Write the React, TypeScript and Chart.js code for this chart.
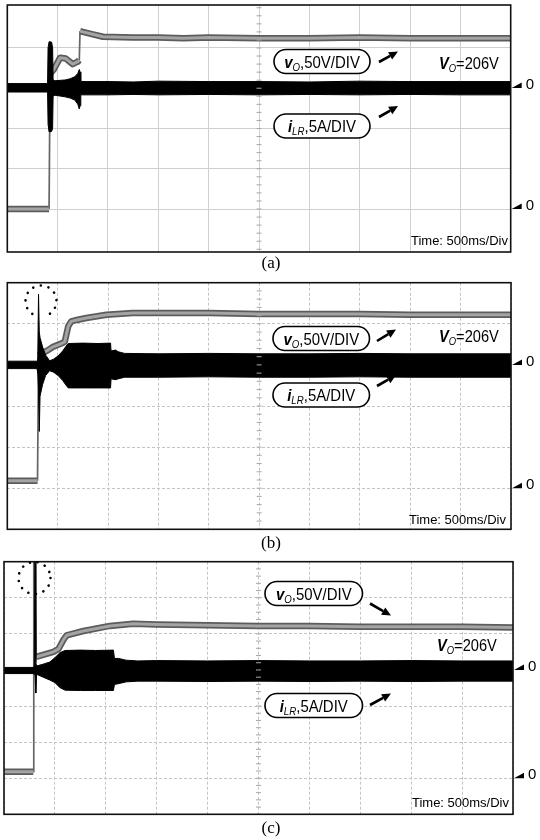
import React, { useEffect, useRef } from "react";
import { Chart, registerables } from "chart.js";
Chart.register(...registerables);

// ---------------- DATA (time in divisions, 500 ms / div) ----------------
const TIME_DIVS = [0, 1, 2, 3, 4, 5, 6, 7, 8, 9, 10];

// Panel (a)
const A_VO_T = [0, 0.83, 0.85, 0.92, 1.05, 1.16, 1.30, 1.40, 1.43, 1.445, 1.5, 1.7, 1.9, 2.5, 3, 3.5, 4, 5, 6, 7, 8, 9, 10];
const A_VO = [0, 0, 168, 173, 188, 187, 180, 183, 185, 221, 220, 217, 214, 213, 213, 212, 213, 212, 212, 213, 212, 212, 212];
const A_I_T = [0, 0.80, 0.81, 0.83, 0.88, 0.90, 0.91, 0.95, 1.05, 1.15, 1.25, 1.34, 1.40, 1.43, 1.445, 1.46, 2, 2.5, 3, 4, 5, 6, 7, 8, 9, 10];
const A_I_HI = [0.55, 0.55, 5.0, 5.75, 5.7, 5.0, 1.0, 0.9, 0.95, 1.0, 1.15, 1.4, 1.8, 2.3, 2.0, 0.8, 0.8, 0.75, 0.85, 0.8, 0.8, 0.75, 0.85, 0.8, 0.8, 0.8];
const A_I_LO = [-0.5, -0.5, -4.5, -5.45, -5.4, -5.0, -1.0, -0.9, -1.0, -1.1, -1.25, -1.5, -2.0, -2.6, -2.2, -0.85, -0.85, -0.8, -0.85, -0.8, -0.85, -0.8, -0.85, -0.8, -0.85, -0.85];

// Panel (b)
const B_VO_T = [0, 0.60, 0.62, 0.81, 0.91, 1.07, 1.14, 1.21, 1.27, 1.40, 1.57, 1.97, 2.49, 3, 4, 5, 6, 7, 8, 9, 10];
const B_VO = [9, 9, 162, 168, 172, 176, 178, 197, 203, 205, 207, 211, 213, 213, 213, 212, 212, 212, 211, 211, 211];
const B_I_T = [0, 0.59, 0.605, 0.62, 0.635, 0.65, 0.70, 0.76, 0.84, 0.92, 1.01, 1.10, 1.17, 1.21, 1.50, 1.80, 2.05, 2.06, 2.15, 2.2, 2.33, 3, 4, 5, 6, 7, 8, 9, 10];
const B_I_HI = [0.45, 0.45, 1.0, 8.6, 4.0, 3.3, 2.2, 1.2, 0.5, 0.7, 1.1, 1.7, 2.3, 2.6, 2.65, 2.6, 2.65, 1.7, 1.8, 1.6, 1.4, 1.35, 1.4, 1.35, 1.35, 1.4, 1.35, 1.35, 1.35];
const B_I_LO = [-0.45, -0.45, -1.0, -3.0, -8.1, -3.8, -2.4, -1.3, -0.7, -0.9, -1.3, -1.9, -2.5, -2.8, -2.8, -2.8, -2.8, -1.7, -1.8, -1.7, -1.5, -1.5, -1.45, -1.5, -1.5, -1.45, -1.5, -1.5, -1.5];

// Panel (c)
const C_VO_T = [0, 0.575, 0.585, 0.61, 0.63, 0.97, 1.07, 1.17, 1.23, 1.56, 2.08, 2.54, 3, 4, 5, 6, 7, 8, 9, 10];
const C_VO = [9, 9, 340, 340, 168, 175, 179, 192, 198, 204, 211, 214, 213, 212, 211, 211, 210, 210, 210, 209];
const C_I_T = [0, 0.57, 0.595, 0.61, 0.625, 0.64, 0.77, 0.90, 1.00, 1.10, 1.20, 1.50, 1.80, 2.15, 2.17, 2.25, 2.40, 2.63, 3, 4, 5, 6, 7, 8, 9, 10];
const C_I_HI = [0.35, 0.35, 0.5, 20, 1.0, 0.55, 0.8, 1.1, 1.7, 2.4, 2.7, 2.75, 2.7, 2.75, 1.6, 1.6, 1.35, 1.25, 1.3, 1.25, 1.3, 1.25, 1.25, 1.3, 1.25, 1.25];
const C_I_LO = [-0.5, -0.5, -0.6, -0.6, -3.2, -0.6, -1.0, -1.4, -1.75, -2.45, -2.8, -2.85, -2.85, -2.85, -2.0, -1.9, -1.65, -1.55, -1.55, -1.6, -1.55, -1.6, -1.55, -1.6, -1.55, -1.55];

const VO_SCALE = "50V/DIV";
const I_SCALE = "5A/DIV";
const VO_FINAL = "=206V";
const TIME_LABEL = "Time: 500ms/Div";

// ---------------- LAYOUT ----------------
const SANS = '"Liberation Sans", Arial, sans-serif';
const SERIF = '"Liberation Serif", "Times New Roman", serif';

type Layout = {
  top: number; height: number;
  area: { l: number; t: number; r: number; b: number };
  vMin: number; vMax: number; vTicks: number[];
  iMin: number; iMax: number;
  dashed: boolean;
  voBox: number[]; iBox: number[];
  arrows: number[][];
  voLabel: number[]; timeLabel: number[];
  caption: [number, number, string];
  circle?: number[];
};

const LAYOUT_A: Layout = {
  top: 0, height: 280,
  area: { l: 7.3, t: 5, r: 510.7, b: 252 },
  vMin: -53.4, vMax: 253.4, vTicks: [0, 50, 100, 150, 200],
  iMin: -20.37, iMax: 10.31, dashed: false,
  voBox: [274, 49.5, 96, 24], iBox: [274, 114, 96, 24],
  arrows: [[379, 62, 398, 51.5], [379, 117, 398, 106]],
  voLabel: [439, 68.5], timeLabel: [508, 244.5],
  caption: [271, 268, "(a)"],
};
const LAYOUT_B: Layout = {
  top: 280, height: 275,
  area: { l: 7.3, t: 2.7, r: 511, b: 249.3 },
  vMin: -50, vMax: 250, vTicks: [-50, 0, 50, 100, 150, 200, 250],
  iMin: -20, iMax: 10, dashed: true,
  voBox: [273, 46.5, 96.5, 24], iBox: [273, 103, 96.5, 24],
  arrows: [[377, 61, 396, 49.5], [377, 106, 396, 95]],
  voLabel: [439, 62], timeLabel: [506, 244],
  caption: [271, 268, "(b)"],
  circle: [41, 21, 15.5, 124, 429],
};
const LAYOUT_C: Layout = {
  top: 555, height: 285,
  area: { l: 4, t: 6.7, r: 513, b: 259.3 },
  vMin: -50, vMax: 300, vTicks: [-50, 0, 50, 100, 150, 200, 250, 300],
  iMin: -20, iMax: 15, dashed: true,
  voBox: [265, 26.5, 97.5, 24], iBox: [265, 138.5, 97.5, 24],
  arrows: [[370, 48.5, 391, 60.5], [370, 150, 391, 138.5]],
  voLabel: [437, 95.5], timeLabel: [509, 252],
  caption: [271, 278, "(c)"],
  circle: [34.5, 23, 16, 0, 360],
};

// ---------------- DRAW HELPERS ----------------
type Part = { t: string; f: string; dy?: number };
function rich(ctx: CanvasRenderingContext2D, parts: Part[], x: number, y: number, sx: number, center: boolean) {
  ctx.save();
  ctx.translate(x, y);
  ctx.scale(sx, 1);
  ctx.textAlign = "left";
  ctx.textBaseline = "alphabetic";
  let w = 0;
  for (const p of parts) { ctx.font = p.f; w += ctx.measureText(p.t).width; }
  let cx = center ? -w / 2 : 0;
  for (const p of parts) {
    ctx.font = p.f;
    ctx.fillText(p.t, cx, p.dy || 0);
    cx += ctx.measureText(p.t).width;
  }
  ctx.restore();
}

function arrow(ctx: CanvasRenderingContext2D, x1: number, y1: number, x2: number, y2: number) {
  const ang = Math.atan2(y2 - y1, x2 - x1);
  const hl = 9, hw = 4.2;
  const bx = x2 - hl * Math.cos(ang), by = y2 - hl * Math.sin(ang);
  ctx.lineWidth = 2.6;
  ctx.lineCap = "butt";
  ctx.beginPath(); ctx.moveTo(x1, y1); ctx.lineTo(bx, by); ctx.stroke();
  ctx.beginPath();
  ctx.moveTo(x2, y2);
  ctx.lineTo(bx + hw * Math.sin(ang), by - hw * Math.cos(ang));
  ctx.lineTo(bx - hw * Math.sin(ang), by + hw * Math.cos(ang));
  ctx.closePath(); ctx.fill();
}

function box(ctx: CanvasRenderingContext2D, b: number[]) {
  const [x, y, w, h] = b;
  ctx.beginPath();
  (ctx as any).roundRect(x, y, w, h, h / 2);
  ctx.fillStyle = "#fff"; ctx.fill();
  ctx.lineWidth = 1.6; ctx.strokeStyle = "#000"; ctx.stroke();
  ctx.fillStyle = "#000";
}

function makeDeco(L: Layout) {
  return {
    id: "deco",
    afterDraw(chart: any) {
      const ctx: CanvasRenderingContext2D = chart.ctx;
      const ca = chart.chartArea;
      const xs = chart.scales.x, yV = chart.scales.yV, yI = chart.scales.yI;
      ctx.save();
      // minor ticks along the centre vertical graticule line
      const cx = xs.getPixelForValue(5);
      ctx.strokeStyle = "#a8a8a8"; ctx.lineWidth = 1;
      for (let v = Math.ceil(L.vMin / 10) * 10; v <= L.vMax; v += 10) {
        const py = yV.getPixelForValue(v);
        ctx.beginPath(); ctx.moveTo(cx - 2.5, py); ctx.lineTo(cx + 2.5, py); ctx.stroke();
      }
      // frame
      ctx.strokeStyle = "#111"; ctx.lineWidth = 1.6;
      ctx.strokeRect(ca.left, ca.top, ca.right - ca.left, ca.bottom - ca.top);
      ctx.fillStyle = "#000"; ctx.strokeStyle = "#000";
      // zero markers
      for (const sc of [yI, yV]) {
        const py = sc.getPixelForValue(0);
        ctx.beginPath();
        ctx.moveTo(ca.right + 1, py);
        ctx.lineTo(ca.right + 11, py);
        ctx.lineTo(ca.right + 11, py - 5.5);
        ctx.closePath(); ctx.fill();
        ctx.font = `15px ${SANS}`; ctx.textAlign = "left"; ctx.textBaseline = "alphabetic";
        ctx.fillText("0", ca.right + 15, py + 1);
      }
      // label boxes
      const big = `17px ${SANS}`, bi = `bold italic 17px ${SANS}`, sub = `italic 11px ${SANS}`;
      box(ctx, L.voBox);
      rich(ctx, [{ t: "v", f: bi }, { t: "O", f: sub, dy: 3 }, { t: "," + VO_SCALE, f: big }],
        L.voBox[0] + L.voBox[2] / 2, L.voBox[1] + L.voBox[3] / 2 + 6, 0.88, true);
      box(ctx, L.iBox);
      rich(ctx, [{ t: "i", f: bi }, { t: "LR", f: sub, dy: 3 }, { t: "," + I_SCALE, f: big }],
        L.iBox[0] + L.iBox[2] / 2, L.iBox[1] + L.iBox[3] / 2 + 6, 0.88, true);
      for (const a of L.arrows) arrow(ctx, a[0], a[1], a[2], a[3]);
      rich(ctx, [{ t: "V", f: bi }, { t: "O", f: sub, dy: 3 }, { t: VO_FINAL, f: big }],
        L.voLabel[0], L.voLabel[1], 0.86, false);
      // time base
      ctx.font = `13px ${SANS}`; ctx.textAlign = "right";
      ctx.fillText(TIME_LABEL, L.timeLabel[0], L.timeLabel[1]);
      // dotted circle
      if (L.circle) {
        const [ccx, ccy, r, s, e] = L.circle;
        ctx.setLineDash([0.01, 7.8]);
        ctx.lineCap = "round"; ctx.lineWidth = 2.6;
        ctx.beginPath(); ctx.arc(ccx, ccy, r, (s * Math.PI) / 180, (e * Math.PI) / 180); ctx.stroke();
        ctx.setLineDash([]);
      }
      // caption
      ctx.font = `17px ${SERIF}`; ctx.textAlign = "center";
      ctx.fillText(L.caption[2], L.caption[0], L.caption[1]);
      ctx.restore();
    },
  };
}

const pts = (t: number[], v: number[]) => t.map((x, i) => ({ x, y: v[i] }));

function Panel(props: { L: Layout; voT: number[]; vo: number[]; iT: number[]; iHi: number[]; iLo: number[] }) {
  const { L, voT, vo, iT, iHi, iLo } = props;
  const ref = useRef<HTMLCanvasElement>(null);
  useEffect(() => {
    const canvas = ref.current!;
    const W = 540, H = L.height, a = L.area;
    const steep = (c: any) => {
      const dy = Math.abs(c.p1.y - c.p0.y), dx = Math.abs(c.p1.x - c.p0.x);
      return dy > 24 && dy > 4 * dx;
    };
    const gridColor = L.dashed ? "#c4c4c4" : "#d0d0d0";
    const chart = new Chart(canvas, {
      type: "line",
      data: {
        datasets: [
          { label: "iLR upper", data: pts(iT, iHi), yAxisID: "yI", borderColor: "#000", borderWidth: 1, pointRadius: 0, fill: false, order: 0 },
          { label: "iLR lower", data: pts(iT, iLo), yAxisID: "yI", borderColor: "#000", borderWidth: 1, pointRadius: 0, fill: "-1", backgroundColor: "#000", order: 0 },
          {
            label: "vo edge", data: pts(voT, vo), yAxisID: "yV", borderColor: "#5c5c5c", borderWidth: 6.5, pointRadius: 0, fill: false, order: 3,
            segment: { borderWidth: (c: any) => (steep(c) ? 1.7 : undefined), borderColor: (c: any) => (steep(c) ? "#666" : undefined) },
          },
          {
            label: "vo", data: pts(voT, vo), yAxisID: "yV", borderColor: "#a4a4a4", borderWidth: 3, pointRadius: 0, fill: false, order: 2,
            segment: { borderColor: (c: any) => (steep(c) ? "rgba(0,0,0,0)" : undefined) },
          },
        ],
      } as any,
      options: {
        animation: false,
        responsive: false,
        maintainAspectRatio: false,
        events: [],
        layout: { padding: { left: a.l, top: a.t, right: W - a.r, bottom: H - a.b } },
        elements: { line: { tension: 0, borderJoinStyle: "round", borderCapStyle: "butt" } },
        plugins: { legend: { display: false }, tooltip: { enabled: false }, title: { display: false } },
        scales: {
          x: {
            type: "linear", min: TIME_DIVS[0], max: TIME_DIVS[TIME_DIVS.length - 1],
            afterBuildTicks: (s: any) => { s.ticks = TIME_DIVS.map((v) => ({ value: v })); },
            ticks: { display: false },
            grid: { color: gridColor, lineWidth: 1, drawTicks: false },
            border: { display: false, dash: L.dashed ? [3, 2] : [] },
            afterFit: (s: any) => { s.height = 0; },
          },
          yV: {
            type: "linear", position: "left", min: L.vMin, max: L.vMax,
            afterBuildTicks: (s: any) => { s.ticks = L.vTicks.map((v) => ({ value: v })); },
            ticks: { display: false },
            grid: { color: gridColor, lineWidth: 1, drawTicks: false },
            border: { display: false, dash: L.dashed ? [3, 2] : [] },
            afterFit: (s: any) => { s.width = 0; },
          },
          yI: {
            type: "linear", position: "right", min: L.iMin, max: L.iMax,
            ticks: { display: false },
            grid: { display: false, drawTicks: false },
            border: { display: false },
            afterFit: (s: any) => { s.width = 0; },
          },
        },
      } as any,
      plugins: [makeDeco(L)],
    });
    return () => chart.destroy();
  }, []);
  return (
    <canvas
      ref={ref}
      width={540}
      height={L.height}
      style={{ position: "absolute", left: 0, top: L.top, width: 540, height: L.height }}
    />
  );
}

export default function App() {
  return (
    <div style={{ position: "absolute", left: 0, top: 0, width: 540, height: 840, background: "#fff" }}>
      <Panel L={LAYOUT_A} voT={A_VO_T} vo={A_VO} iT={A_I_T} iHi={A_I_HI} iLo={A_I_LO} />
      <Panel L={LAYOUT_B} voT={B_VO_T} vo={B_VO} iT={B_I_T} iHi={B_I_HI} iLo={B_I_LO} />
      <Panel L={LAYOUT_C} voT={C_VO_T} vo={C_VO} iT={C_I_T} iHi={C_I_HI} iLo={C_I_LO} />
    </div>
  );
}
